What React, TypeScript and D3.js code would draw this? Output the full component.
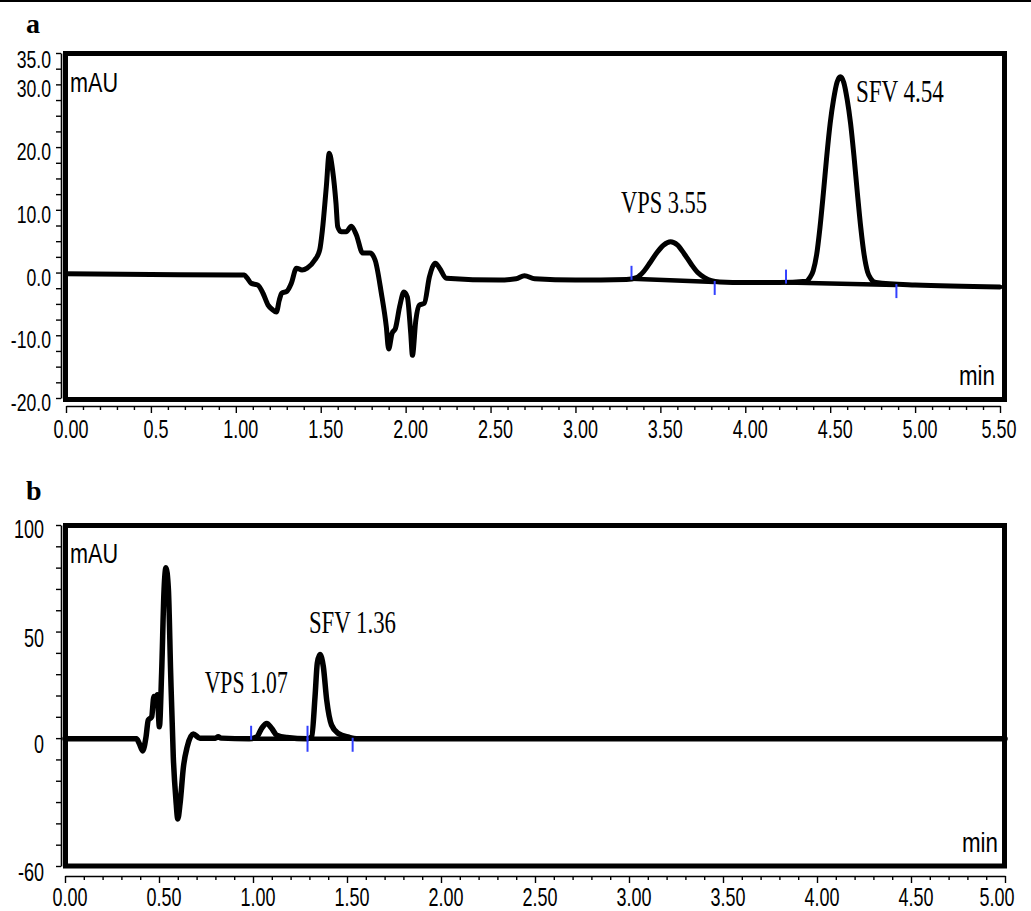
import { useRef, useEffect } from "react";
import * as d3 from "d3";

// chromatogram (a): time in min, signal in mAU
const traceA: [number, number][] = [
  [0.0, -0.2], [0.5, -0.3], [1.0, -0.4], [1.05, -0.4], [1.065, -0.8], [1.09, -1.7], [1.13, -2.0],
  [1.16, -3.3], [1.19, -5.2], [1.215, -5.9], [1.239, -6.3], [1.256, -4.4], [1.27, -3.3], [1.3, -3.0],
  [1.327, -1.7], [1.357, 0.7], [1.39, 0.4], [1.42, 0.7], [1.465, 2.0], [1.494, 3.6], [1.51, 6.8],
  [1.533, 13.7], [1.55, 19.0], [1.57, 16.3], [1.59, 11.0], [1.6, 7.3], [1.62, 6.5], [1.65, 6.5],
  [1.68, 7.4], [1.71, 6.0], [1.747, 3.1], [1.79, 3.1], [1.82, 2.0], [1.857, -3.3], [1.886, -8.6],
  [1.9, -12.2], [1.92, -9.7], [1.94, -8.9], [1.965, -5.4], [1.99, -3.1], [2.01, -3.9], [2.03, -9.7],
  [2.04, -13.2], [2.06, -7.6], [2.08, -5.2], [2.11, -4.9], [2.14, -0.7], [2.175, 1.5], [2.2, 0.7],
  [2.24, -0.9], [2.55, -1.2], [2.65, -1.0], [2.7, -0.5], [2.76, -1.0], [3.0, -1.2], [3.3, -1.1],
  [3.36, -0.8], [3.4, 0.1], [3.44, 1.6], [3.48, 3.2], [3.52, 4.4], [3.56, 4.9], [3.6, 4.4],
  [3.64, 3.0], [3.68, 1.4], [3.72, 0.0], [3.76, -0.8], [3.8, -1.3], [3.85, -1.5], [4.0, -1.6],
  [4.2, -1.6], [4.36, -1.4], [4.38, -0.8], [4.4, 0.3], [4.42, 2.8], [4.44, 7.2], [4.46, 12.7],
  [4.48, 18.6], [4.5, 23.8], [4.52, 27.6], [4.54, 30.3], [4.56, 31.2], [4.58, 30.3], [4.6, 27.6],
  [4.62, 23.8], [4.64, 18.6], [4.66, 12.7], [4.68, 7.2], [4.7, 2.8], [4.72, 0.1], [4.74, -1.0],
  [4.77, -1.6], [5.0, -2.0], [5.5, -2.3],
];

// chromatogram (b)
const traceB: [number, number][] = [
  [0.0, -0.3], [0.38, -0.3], [0.395, -2.5], [0.413, -6.0], [0.431, 0.6], [0.443, 8.5], [0.461, 10.0],
  [0.473, 19.5], [0.484, 16.5], [0.491, 20.3], [0.502, 5.3], [0.514, 30.6], [0.527, 69.8],
  [0.537, 80.0], [0.55, 69.8], [0.562, 30.6], [0.576, -8.8], [0.59, -29.0], [0.6, -37.9],
  [0.612, -30.8], [0.63, -13.5], [0.65, -4.1], [0.682, 1.9], [0.718, 0.0], [0.8, 0.0], [0.815, 0.6],
  [0.83, 0.0], [0.98, -0.3], [1.02, 0.6], [1.046, 4.6], [1.073, 6.9], [1.099, 4.6], [1.126, 1.4],
  [1.18, 0.3], [1.29, -0.3], [1.312, 0.6], [1.33, 19.5], [1.342, 35.2], [1.356, 39.2], [1.374, 33.6],
  [1.392, 17.9], [1.418, 6.1], [1.454, 2.2], [1.51, 0.4], [1.55, -0.3], [5.0, -0.3],
];

const xLabelsA = ["0.00", "0.5", "1.00", "1.50", "2.00", "2.50", "3.00", "3.50", "4.00", "4.50", "5.00", "5.50"];
const xLabelsB = ["0.00", "0.50", "1.00", "1.50", "2.00", "2.50", "3.00", "3.50", "4.00", "4.50", "5.00"];
const yTicksA = [35, 30, 20, 10, 0, -10, -20];
const yTicksB = [100, 50, 0, -60];

// peak names, apex time and apex height
const peakNamesA = ["VPS 3.55", "SFV 4.54"];
const peakTimesA = [3.563, 4.563];
const peakTopsA = [4.9, 31.2];
const peakNamesB = ["VPS 1.07", "SFV 1.36"];
const peakTimesB = [1.073, 1.356];
const peakTopsB = [6.9, 39.2];

// integration start / end marks: [time, baseline value, direction]
const marksA: [number, number, number][] = [[3.33, -1.0, 1], [3.82, -1.5, -1], [4.24, -1.6, 1], [4.89, -2.0, -1]];
const marksB: [number, number, number][] = [[0.99, -0.3, 1], [1.29, -0.3, -1], [1.29, -0.3, 1], [1.53, -0.3, -1]];
const baseA: [number, number][][] = [[[3.33, -1.0], [3.82, -1.5]], [[4.24, -1.6], [4.89, -2.0]]];
const baseB: [number, number][][] = [[[0.99, -0.3], [1.29, -0.3]], [[1.29, -0.3], [1.53, -0.3]]];

const W = 1031;
const H = 911;
const SANS = "'Liberation Sans', Arial, sans-serif";
const SERIF = "'Liberation Serif', 'Times New Roman', serif";

// narrow label widths (the original is horizontally squeezed)
const numWidth = (s: string, digit: number) => {
  let w = 0;
  for (const c of s) w += c === "." ? digit * 0.5 : c === "-" ? digit * 0.6 : digit;
  return w;
};

const drawPanel = (svg: any, p: any) => {
  const { x, y } = p;

  // frame
  svg.append("rect")
    .attr("x", p.frame[0]).attr("y", p.frame[1])
    .attr("width", p.frame[2] - p.frame[0]).attr("height", p.frame[3] - p.frame[1])
    .attr("fill", "none").attr("stroke", "#000").attr("stroke-width", 5);

  // x axis with 0.1 min minor ticks
  const gx = svg.append("g").attr("transform", `translate(0,${p.axisY})`)
    .call(d3.axisBottom(x).tickValues(d3.range(0, x.domain()[1] + 1e-9, 0.1)).tickSize(4).tickSizeOuter(0).tickFormat(() => ""));
  gx.select(".domain").attr("stroke-width", 1.6);
  gx.selectAll(".tick line").attr("stroke-width", 1.4)
    .attr("y2", (d: number) => (Math.abs(d * 2 - Math.round(d * 2)) < 1e-6 ? 7 : 4));

  const gy = svg.append("g").attr("transform", `translate(${p.axisX},0)`)
    .call(d3.axisLeft(y).tickValues(d3.range(y.domain()[0], y.domain()[1] + 1e-9, p.yStep)).tickSize(5).tickSizeOuter(0).tickFormat(() => ""));
  gy.select(".domain").attr("stroke-width", 1.6);
  gy.selectAll(".tick line").attr("stroke-width", 1.4);

  // tick labels
  p.xLabels.forEach((s: string, i: number) => {
    const last = i === p.xLabels.length - 1;
    svg.append("text")
      .attr("x", x(i * 0.5) + (last ? p.lastDx : 5)).attr("y", p.xLabelY)
      .attr("text-anchor", "middle").attr("font-family", SANS).attr("font-size", 25)
      .attr("textLength", numWidth(s, 10)).attr("lengthAdjust", "spacingAndGlyphs")
      .text(s);
  });
  p.yTicks.forEach((v: number, i: number) => {
    const s = p.yFormat(v).replace("\u2212", "-");
    svg.append("text")
      .attr("x", p.yLabelX).attr("y", y(v) + (i === 0 ? p.topDy : p.yDy))
      .attr("text-anchor", "end").attr("font-family", SANS).attr("font-size", p.yFont)
      .attr("textLength", numWidth(s, p.yDigit)).attr("lengthAdjust", "spacingAndGlyphs")
      .text(s);
  });

  // units
  svg.append("text").attr("x", 70).attr("y", p.mauY).attr("font-family", SANS).attr("font-size", 27)
    .attr("textLength", 48).attr("lengthAdjust", "spacingAndGlyphs").text("mAU");
  svg.append("text").attr("x", p.minX).attr("y", p.minY).attr("font-family", SANS).attr("font-size", 27)
    .attr("textLength", 36).attr("lengthAdjust", "spacingAndGlyphs").text("min");

  // panel letter
  svg.append("text").attr("x", 26).attr("y", p.letterY).attr("font-family", SERIF)
    .attr("font-weight", "bold").attr("font-size", 28).text(p.letter);

  const line = d3.line<[number, number]>().x((d) => x(d[0])).y((d) => y(d[1])).curve(d3.curveMonotoneX);

  // integration baselines
  p.bases.forEach((b: [number, number][]) => {
    svg.append("path").attr("d", d3.line<[number, number]>().x((d) => x(d[0])).y((d) => y(d[1]))(b))
      .attr("fill", "none").attr("stroke", "#000").attr("stroke-width", 4.5);
  });

  svg.append("path").datum(p.trace).attr("d", line)
    .attr("fill", "none").attr("stroke", "#000").attr("stroke-width", p.lineWidth)
    .attr("stroke-linejoin", "round").attr("stroke-linecap", "round");

  // blue integration marks
  p.marks.forEach(([t, v, dir]: [number, number, number]) => {
    const y0 = y(v);
    svg.append("line").attr("x1", x(t)).attr("x2", x(t))
      .attr("y1", dir > 0 ? y0 + 1 : y0 - 1).attr("y2", dir > 0 ? y0 - 13 : y0 + 13)
      .attr("stroke", "#3240ff").attr("stroke-width", 2);
  });

  // peak labels
  p.peakNames.forEach((s: string, i: number) => {
    const [dx, dy, len] = p.peakOffsets[i];
    svg.append("text")
      .attr("x", x(p.peakTimes[i]) + dx).attr("y", y(p.peakTops[i]) + dy)
      .attr("font-family", SERIF).attr("font-size", 31)
      .attr("textLength", len).attr("lengthAdjust", "spacingAndGlyphs")
      .text(s);
  });
};

const App = () => {
  const ref = useRef<SVGSVGElement>(null);

  useEffect(() => {
    const svg = d3.select(ref.current);
    svg.selectAll("*").remove();

    svg.append("rect").attr("width", W).attr("height", H).attr("fill", "#fff");
    svg.append("line").attr("x1", 0).attr("x2", W).attr("y1", 1).attr("y2", 1)
      .attr("stroke", "#000").attr("stroke-width", 2);

    drawPanel(svg, {
      x: d3.scaleLinear().domain([0, 5.5]).range([66, 1000]),
      y: d3.scaleLinear().domain([-20, 35]).range([398, 53]),
      frame: [65.5, 53.5, 1004.5, 399.5],
      axisY: 406, axisX: 61, yStep: 2.5, lineWidth: 5,
      xLabels: xLabelsA, xLabelY: 438, lastDx: -1,
      yTicks: yTicksA, yFormat: d3.format(".1f"), yLabelX: 51, yDy: 13, topDy: 15, yFont: 23, yDigit: 9.8,
      mauY: 92, minX: 959, minY: 385, letter: "a", letterY: 33,
      trace: traceA, bases: baseA, marks: marksA,
      peakNames: peakNamesA, peakTimes: peakTimesA, peakTops: peakTopsA,
      peakOffsets: [[-50, -29, 86], [15, 25, 88]],
    });

    drawPanel(svg, {
      x: d3.scaleLinear().domain([0, 5]).range([65, 1005]),
      y: d3.scaleLinear().domain([-60, 100]).range([866, 525]),
      frame: [65.5, 525.5, 1004.5, 866],
      axisY: 876, axisX: 61, yStep: 10, lineWidth: 5.5,
      xLabels: xLabelsB, xLabelY: 906, lastDx: -8,
      yTicks: yTicksB, yFormat: d3.format("d"), yLabelX: 44, yDy: 15, topDy: 13, yFont: 25, yDigit: 10,
      mauY: 563, minX: 962, minY: 852, letter: "b", letterY: 500,
      trace: traceB, bases: baseB, marks: marksB,
      peakNames: peakNamesB, peakTimes: peakTimesB, peakTops: peakTopsB,
      peakOffsets: [[-62, -30, 83], [-11, -22, 87]],
    });
  }, []);

  return <svg ref={ref} width={W} height={H} style={{ position: "absolute", left: 0, top: 0 }} />;
};

export default App;
